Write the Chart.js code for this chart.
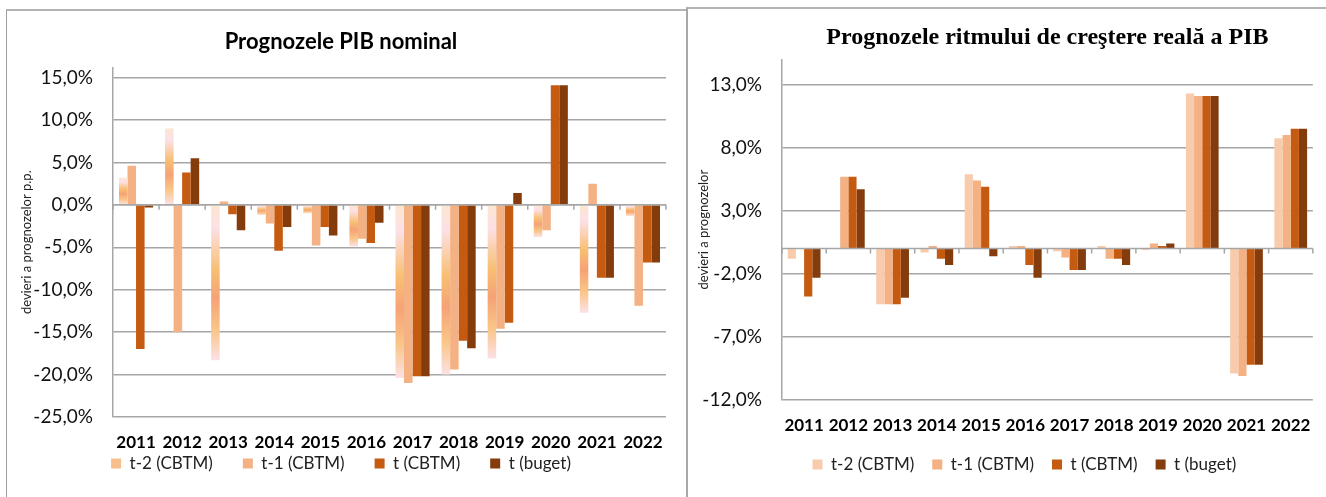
<!DOCTYPE html>
<html>
<head>
<meta charset="utf-8">
<script src="https://cdn.jsdelivr.net/npm/chart.js@4"></script>
<style>
  body { margin: 0; width: 1326px; height: 497px; overflow: hidden; background: #fff; position: relative; }
  .frame { position: absolute; box-sizing: border-box; }
  #leftFrame { left: 6px; top: 9px; width: 681px; height: 500px; border-left: 1px solid #9e9e9e; border-top: 2px solid #b4b4b4; }
  #rightFrame { left: 686px; top: 7px; width: 640px; height: 500px; border-left: 2px solid #a8a8a8; border-top: 2px solid #b4b4b4; }
  canvas { position: absolute; }
  #nominalChart { left: 8px; top: 11px; }
  #realChart { left: 689px; top: 9px; }
</style>
</head>
<body>
<div class="frame" id="leftFrame"></div>
<div class="frame" id="rightFrame"></div>
<canvas id="nominalChart" width="677" height="486"></canvas>
<canvas id="realChart" width="637" height="488"></canvas>
<script>
const years = ["2011", "2012", "2013", "2014", "2015", "2016", "2017", "2018", "2019", "2020", "2021", "2022"];
const seriesNames = ["t-2 (CBTM)", "t-1 (CBTM)", "t (CBTM)", "t (buget)"];

// PIB nominal, devieri (p.p.)
const nomT2 = [3.2, 9.0, -18.3, -1.2, -1.0, -4.9, -20.4, -20.0, -18.1, -3.8, -12.7, -1.3];
const nomT1 = [4.6, -15.0, 0.4, -2.2, -4.8, -4.0, -21.0, -19.4, -14.6, -3.0, 2.5, -11.9];
const nomT = [-17.0, 3.8, -1.1, -5.4, -2.6, -4.5, -20.2, -16.0, -13.9, 14.1, -8.6, -6.8];
const nomBuget = [-0.3, 5.5, -3.0, -2.6, -3.6, -2.1, -20.2, -16.9, 1.4, 14.1, -8.6, -6.8];
const nomTicks = [15, 10, 5, 0, -5, -10, -15, -20, -25];

// ritmul de crestere reala
const realT2 = [-0.8, 0, -4.4, -0.3, 5.9, 0.2, -0.2, 0.2, -0.1, 12.3, -9.9, 8.75];
const realT1 = [0, 5.7, -4.4, 0.2, 5.4, 0.2, -0.7, -0.8, 0.4, 12.1, -10.1, 9.0];
const realT = [-3.8, 5.7, -4.4, -0.8, 4.9, -1.3, -1.7, -0.8, 0.2, 12.1, -9.2, 9.5];
const realBuget = [-2.3, 4.7, -3.9, -1.3, -0.6, -2.3, -1.7, -1.3, 0.4, 12.1, -9.2, 9.5];
const realTicks = [13, 8, 3, -2, -7, -12];

const colors = ["#f8cbad", "#f4b183", "#c55a11", "#843c0c"];
const legendPeach = "#f8bf8e";
const gridColor = "#a6a6a6";
const sans = "Lato";

const fmtPct = (v) => v.toFixed(1).replace(".", ",") + "%";

// peach gradient used by Excel for the t-2 bars of the first chart
const peachFill = (c) => {
  if (c.type !== "data" || c.raw == null || !c.chart.scales.y) return legendPeach;
  const y = c.chart.scales.y;
  const a = y.getPixelForValue(c.raw);
  const b = y.getPixelForValue(0);
  if (!isFinite(a) || !isFinite(b) || Math.abs(a - b) < 1) return legendPeach;
  const g = c.chart.ctx.createLinearGradient(0, Math.min(a, b), 0, Math.max(a, b));
  g.addColorStop(0, "#fce6d0");
  g.addColorStop(0.15, "#fce0e6");
  g.addColorStop(0.42, "#f8bf72");
  g.addColorStop(0.6, "#f6a276");
  g.addColorStop(0.8, "#f9c585");
  g.addColorStop(1, "#fce1e6");
  return g;
};

// gradients belong to a bar's position, so the legend gets a plain swatch
const legendItems = (chart) =>
  Chart.defaults.plugins.legend.labels.generateLabels(chart).map((item) => {
    if (typeof item.fillStyle !== "string") item.fillStyle = legendPeach;
    return item;
  });

// category axis line drawn at zero, with tick marks between years
const zeroAxis = {
  id: "zeroAxis",
  afterDatasetsDraw(chart) {
    const { ctx, chartArea, scales: { x, y } } = chart;
    const y0 = y.getPixelForValue(0);
    const n = x.ticks.length;
    ctx.save();
    ctx.strokeStyle = gridColor;
    ctx.lineWidth = 1.5;
    ctx.beginPath();
    ctx.moveTo(chartArea.left, y0);
    ctx.lineTo(chartArea.right, y0);
    for (let i = 0; i <= n; i++) {
      let px;
      if (i === 0) px = chartArea.left;
      else if (i === n) px = chartArea.right;
      else px = (x.getPixelForValue(i - 1) + x.getPixelForValue(i)) / 2;
      ctx.moveTo(px, y0);
      ctx.lineTo(px, y0 + 5);
    }
    ctx.stroke();
    ctx.restore();
  },
};

// lets the year labels overlap the legend box and nudges the legend sideways
const layoutTweaks = {
  id: "layoutTweaks",
  afterLayout(chart, args, opts) {
    const x = chart.scales.x;
    if (opts.labelRoom) x.bottom = x.top + opts.labelRoom;
    if (opts.legendShift) {
      chart.legend.left += opts.legendShift;
      chart.legend.right += opts.legendShift;
    }
  },
};

const makeChart = (id, series, fills, cfg) => {
  const ctx = document.getElementById(id).getContext("2d");
  return new Chart(ctx, {
    type: "bar",
    data: {
      labels: years,
      datasets: series.map((values, i) => ({
        label: seriesNames[i],
        data: values,
        backgroundColor: fills[i],
        borderWidth: 0,
        categoryPercentage: 0.74,
        barPercentage: 1,
      })),
    },
    plugins: [zeroAxis, layoutTweaks],
    options: {
      responsive: false,
      animation: false,
      layout: { padding: cfg.padding },
      plugins: {
        tooltip: { enabled: false },
        layoutTweaks: { labelRoom: cfg.labelRoom, legendShift: cfg.legendShift },
        title: {
          display: true,
          text: cfg.title,
          color: "#000",
          font: cfg.titleFont,
          fullSize: cfg.titleFull,
          padding: cfg.titlePadding,
        },
        legend: {
          position: "bottom",
          fullSize: cfg.titleFull,
          labels: {
            color: "#222",
            font: { family: sans, size: 17 },
            boxWidth: 10,
            boxHeight: 10,
            padding: cfg.legendPadding,
            generateLabels: legendItems,
          },
        },
      },
      scales: {
        x: {
          grid: { display: false, drawTicks: false },
          border: { display: false },
          ticks: {
            color: "#000",
            font: { family: sans, size: 17, weight: "bold" },
            padding: cfg.xPadding,
            maxRotation: 0,
            autoSkip: false,
          },
          afterFit: (s) => { s.height = cfg.xHeight; },
        },
        y: {
          min: cfg.min,
          max: cfg.max,
          afterBuildTicks: (s) => { s.ticks = cfg.ticks.map((v) => ({ value: v })); },
          afterFit: (s) => { s.width = cfg.yWidth; },
          grid: { color: gridColor, lineWidth: 1.5, drawTicks: false },
          border: { display: true, color: gridColor, width: 1.5 },
          ticks: {
            color: "#111",
            font: { family: sans, size: 19 },
            padding: 20,
            callback: (v) => fmtPct(v),
          },
          title: {
            display: true,
            text: cfg.yTitle,
            color: "#222",
            font: { family: sans, size: 13 },
            padding: { top: 3, bottom: 0 },
          },
        },
      },
    },
  });
};

makeChart("nominalChart", [nomT2, nomT1, nomT, nomBuget], [peachFill, colors[1], colors[2], colors[3]], {
  title: "Prognozele PIB nominal",
  titleFont: { family: sans, size: 22, weight: "bold" },
  titleFull: true,
  titlePadding: { top: 8, bottom: 12 },
  padding: { left: 8, right: 19, top: 10, bottom: 15 },
  legendPadding: 30,
  xPadding: 15,
  xHeight: 8,
  labelRoom: 42,
  legendShift: 0,
  yWidth: 97,
  min: -25,
  max: 16.2,
  ticks: nomTicks,
  yTitle: "devieri a prognozelor p.p.",
});

makeChart("realChart", [realT2, realT1, realT, realBuget], colors, {
  title: "Prognozele ritmului de creştere reală a PIB",
  titleFont: { family: "Liberation Serif", size: 24, weight: "bold" },
  titleFull: false,
  titlePadding: { top: 4, bottom: 7.6 },
  padding: { left: 4, right: 11, top: 10, bottom: 14 },
  legendPadding: 18,
  xPadding: 15,
  xHeight: 38,
  labelRoom: 0,
  legendShift: -23,
  yWidth: 89,
  min: -12,
  max: 15,
  ticks: realTicks,
  yTitle: "devieri a prognozelor",
});
</script>
</body>
</html>
